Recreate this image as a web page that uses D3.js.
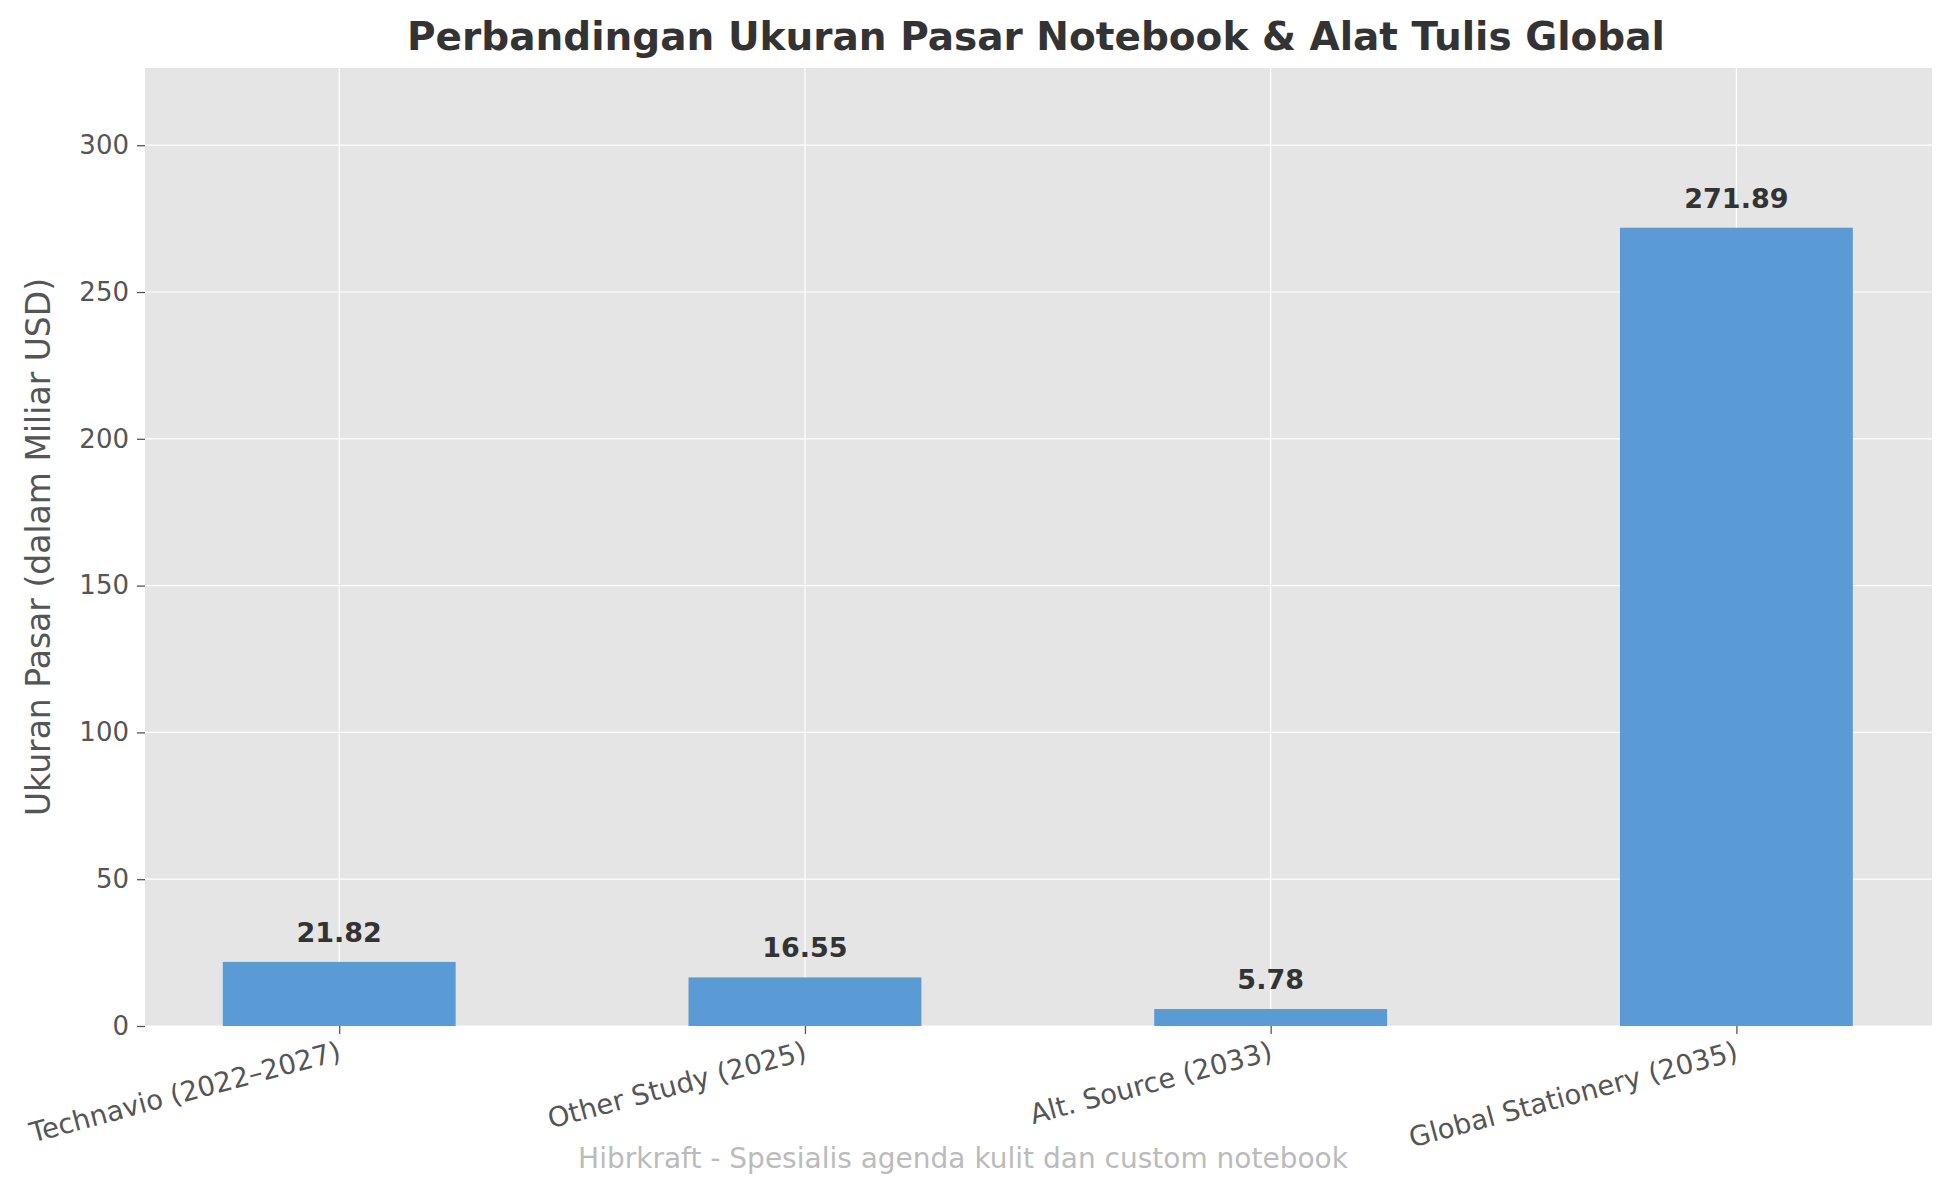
<!DOCTYPE html>
<html><head><meta charset="utf-8">
<script src="https://cdn.jsdelivr.net/npm/d3@7"></script>
<style>body{margin:0;background:#fff;font-family:"DejaVu Sans",sans-serif;}</style>
</head><body><svg id="c" width="1953" height="1192"></svg>
<script>
const categories = ["Technavio (2022–2027)", "Other Study (2025)", "Alt. Source (2033)", "Global Stationery (2035)"];
const values = [21.82, 16.55, 5.78, 271.89];
const yTicks = [0, 50, 100, 150, 200, 250, 300];

const svg = d3.select("#c");
const m = { left: 145, right: 1932, top: 68, bottom: 1026 };

const x = d3.scaleLinear().domain([-0.417, 3.42]).range([m.left, m.right]);
const y = d3.scaleLinear().domain([0, 326.3]).range([m.bottom, m.top]);

svg.append("rect").attr("x", m.left).attr("y", m.top)
    .attr("width", m.right - m.left).attr("height", m.bottom - m.top).attr("fill", "#e5e5e5");

// grid
svg.append("g").selectAll("line").data(yTicks).enter().append("line")
    .attr("x1", m.left).attr("x2", m.right)
    .attr("y1", (d) => y(d)).attr("y2", (d) => y(d))
    .attr("stroke", "#fff").attr("stroke-width", 1.2);
svg.append("g").selectAll("line").data(categories).enter().append("line")
    .attr("x1", (d, i) => x(i)).attr("x2", (d, i) => x(i))
    .attr("y1", m.top).attr("y2", m.bottom)
    .attr("stroke", "#fff").attr("stroke-width", 1.2);

// bars
svg.append("g").selectAll("rect").data(values).enter().append("rect")
    .attr("x", (d, i) => x(i - 0.25)).attr("width", x(0.25) - x(-0.25))
    .attr("y", (d) => y(d)).attr("height", (d) => y(0) - y(d))
    .attr("fill", "#5b9bd5");

svg.append("g").selectAll("text").data(values).enter().append("text")
    .attr("x", (d, i) => x(i)).attr("y", (d) => y(d) - 20)
    .attr("text-anchor", "middle").attr("font-size", 27).attr("font-weight", "bold")
    .attr("fill", "#333").text((d) => d.toFixed(2));

// y axis
const yAxis = svg.append("g").attr("transform", `translate(${m.left},0)`)
    .call(d3.axisLeft(y).tickValues(yTicks).tickSize(8).tickPadding(8));
yAxis.select(".domain").remove();
yAxis.selectAll("line").attr("stroke", "#555").attr("stroke-width", 1.3);
yAxis.selectAll("text").attr("font-size", 26).attr("fill", "#555").attr("font-family", "DejaVu Sans");

// x axis
const xAxis = svg.append("g").attr("transform", `translate(0,${m.bottom})`)
    .call(d3.axisBottom(x).tickValues([0, 1, 2, 3]).tickSize(8).tickFormat((d) => categories[d]));
xAxis.select(".domain").remove();
xAxis.selectAll("line").attr("stroke", "#555").attr("stroke-width", 1.3);
xAxis.selectAll("text").attr("font-size", 27.5).attr("fill", "#555").attr("font-family", "DejaVu Sans")
    .attr("text-anchor", "end").attr("dy", 0)
    .attr("transform", "translate(0,24) rotate(-15)").attr("y", 10);

svg.append("text").attr("transform", `translate(50,${(m.top + m.bottom) / 2}) rotate(-90)`)
    .attr("text-anchor", "middle").attr("font-size", 33).attr("fill", "#555")
    .text("Ukuran Pasar (dalam Miliar USD)");

svg.append("text").attr("x", 1036).attr("y", 50)
    .attr("text-anchor", "middle").attr("font-size", 39).attr("font-weight", "bold").attr("fill", "#333")
    .text("Perbandingan Ukuran Pasar Notebook & Alat Tulis Global");

svg.append("text").attr("x", 963).attr("y", 1168)
    .attr("text-anchor", "middle").attr("font-size", 28).attr("fill", "#bbb")
    .text("Hibrkraft - Spesialis agenda kulit dan custom notebook");
</script></body></html>
